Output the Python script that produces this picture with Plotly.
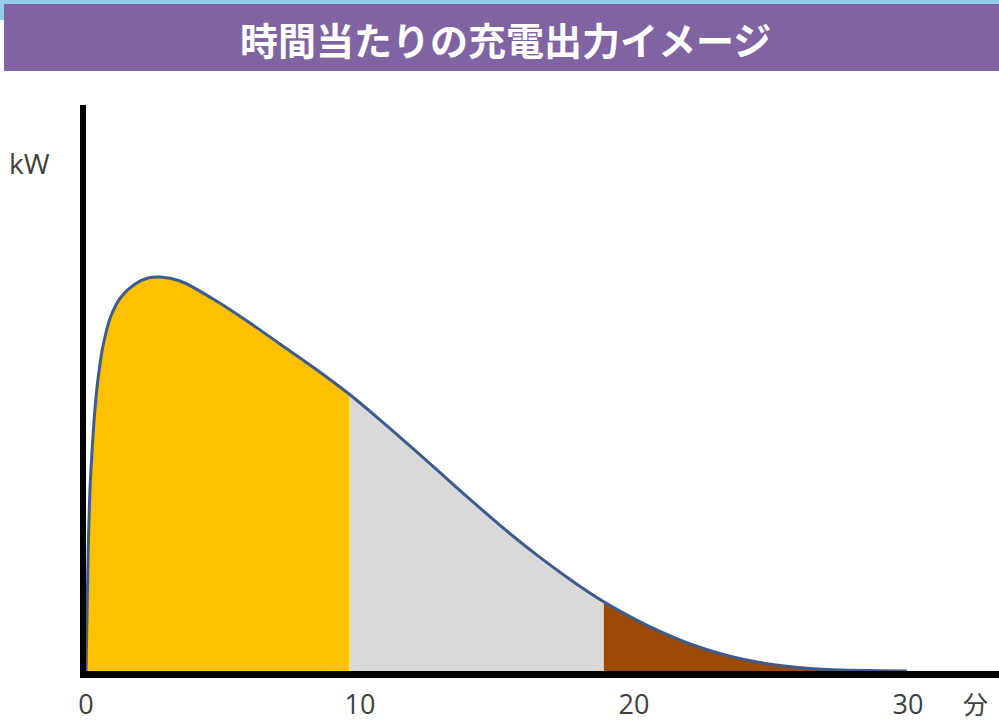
import plotly.graph_objects as go

# Charging power over time (minutes -> kW, relative units)
minutes = [0, 0.073, 0.146, 0.20, 0.318, 0.438, 0.62, 0.91, 1.28, 1.79, 2.26, 2.70,
           3.43, 4.64, 5.88, 7.08, 8.28, 9.6, 10.73, 11.72, 12.92, 14.12,
           15.36, 16.57, 17.77, 18.9, 20.22, 20.95, 22.15, 23.39, 24.6, 25.8,
           27.04, 29.96]
power_kw = [0, 28, 45.5, 52.5, 64.75, 73, 81.25, 88.75, 93.5, 96.75, 98.25, 98.5,
            97.5, 93, 87.5, 81.75, 76, 69.25, 62.8, 56.9, 49.6, 42.3,
            35.0, 28.4, 22.4, 17.3, 12.3, 9.9, 6.5, 3.9, 2.1, 1.0, 0.35, 0]

# Phase boundaries (minutes) where the fill colour changes
phase_edges = [0, 9.6, 18.9, 29.96]
phase_colors = ["#FFC000", "#D9D9D9", "#9C4A06"]

tick_vals = [0, 10, 20, 30]
tick_text = ["0", "10", "20", "30"]

title_text = "時間当たりの充電出力イメージ"
y_label = "kW"
x_label = "分"

W, H = 999, 721
ML, MT, MB = 86, 105, 50
plot_w = W - ML
plot_h = H - MT - MB
px_per_min = 27.4
px_per_kw = 4.0

fig = go.Figure()

# Filled phases under the curve
for i, color in enumerate(phase_colors):
    lo, hi = phase_edges[i], phase_edges[i + 1]
    xs = [m for m in minutes if lo <= m <= hi]
    ys = [p for m, p in zip(minutes, power_kw) if lo <= m <= hi]
    fig.add_trace(go.Scatter(
        x=xs, y=ys, mode="lines", line=dict(width=0, shape="spline", color=color),
        fill="tozeroy", fillcolor=color, hoverinfo="skip", showlegend=False,
    ))

# Outline of the power curve
fig.add_trace(go.Scatter(
    x=minutes, y=power_kw, mode="lines",
    line=dict(color="#3D5B8C", width=3, shape="spline"),
    showlegend=False,
))

def px_x(px):
    return (px - ML) / plot_w

def px_y(py):
    return (H - MB - py) / plot_h

shapes = [
    # light blue strip along the top edge
    dict(type="rect", xref="paper", yref="paper", x0=px_x(0), x1=px_x(W),
         y0=px_y(4), y1=px_y(0), fillcolor="#93CFE8", line_width=0, layer="above"),
    dict(type="rect", xref="paper", yref="paper", x0=px_x(0), x1=px_x(4),
         y0=px_y(20), y1=px_y(0), fillcolor="#93CFE8", line_width=0, layer="above"),
    # purple title banner
    dict(type="rect", xref="paper", yref="paper", x0=px_x(4), x1=px_x(W),
         y0=px_y(71), y1=px_y(4), fillcolor="#8064A2", line_width=0, layer="above"),
]

annotations = [
    dict(text=f"<b>{title_text}</b>", xref="paper", yref="paper",
         x=px_x(505), y=px_y(38), xanchor="center", yanchor="middle",
         showarrow=False, font=dict(family="Noto Sans CJK JP", size=38, color="white")),
    dict(text=y_label, xref="paper", yref="paper", x=px_x(29), y=px_y(163),
         xanchor="center", yanchor="middle", showarrow=False,
         font=dict(family="Open Sans", size=28, color="#404040")),
    dict(text=x_label, xref="paper", yref="paper", x=px_x(975), y=px_y(703),
         xanchor="center", yanchor="middle", showarrow=False,
         font=dict(family="Noto Sans CJK JP", size=25, color="#404040")),
]

fig.update_layout(
    width=W, height=H,
    margin=dict(l=ML, r=0, t=MT, b=MB),
    paper_bgcolor="white", plot_bgcolor="white",
    shapes=shapes, annotations=annotations,
    xaxis=dict(range=[0, plot_w / px_per_min], showgrid=False, zeroline=False,
               showline=True, linecolor="black", linewidth=7,
               tickvals=tick_vals, ticktext=tick_text, ticks="",
               ticklabelstandoff=4,
               tickfont=dict(family="Open Sans", size=27, color="#404040")),
    yaxis=dict(range=[0, plot_h / px_per_kw], showgrid=False, zeroline=False,
               showline=True, linecolor="black", linewidth=6,
               showticklabels=False, ticks=""),
)

fig.write_html("out.html")
